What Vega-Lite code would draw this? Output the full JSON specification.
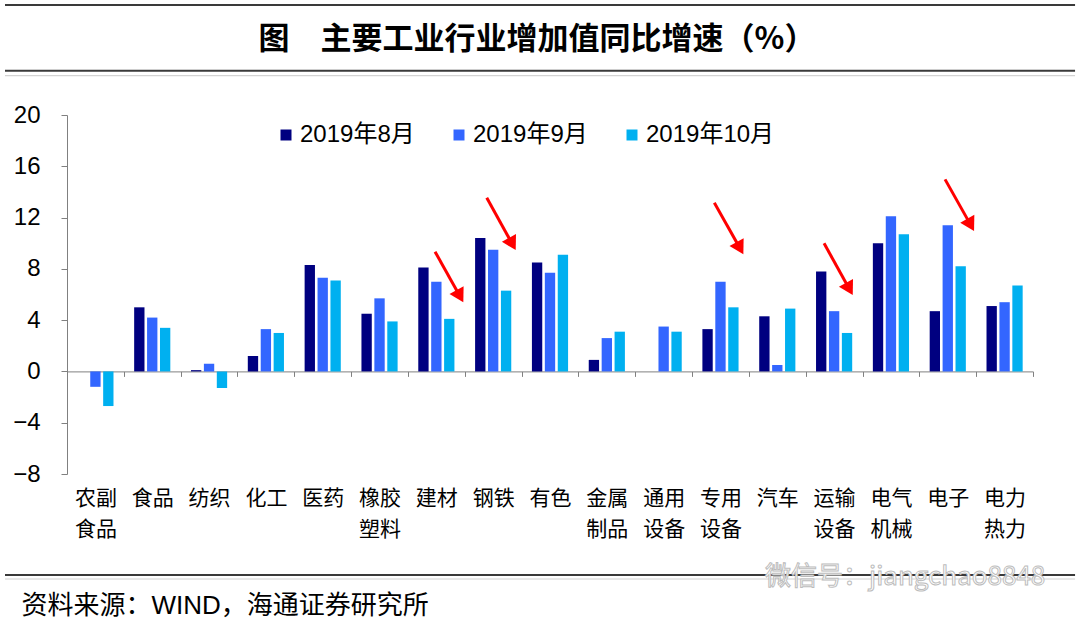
{
  "$schema": "https://vega.github.io/schema/vega-lite/v6.json",
  "width": 966,
  "height": 359,
  "autosize": {"type": "none"},
  "padding": {"left": 67, "top": 115, "right": 47, "bottom": 153},
  "background": "white",
  "config": {
    "view": {"stroke": null},
    "font": "Liberation Sans",
    "axisY": {
      "grid": false,
      "domainColor": "#808080",
      "tickColor": "#808080",
      "tickSize": 6,
      "labelFont": "Liberation Sans",
      "labelFontSize": 24,
      "labelColor": "#000000",
      "labelPadding": 21
    }
  },
  "title": {
    "text": "图　主要工业行业增加值同比增速（%）",
    "font": "Noto Sans CJK SC",
    "fontSize": 31,
    "fontWeight": "bold",
    "color": "#000000",
    "anchor": "middle",
    "frame": "group",
    "dx": -13,
    "dy": 52,
    "offset": 0
  },
  "datasets": {
    "bars": [
      {"industry": "农副食品", "month": "2019年8月", "value": 0},
      {"industry": "农副食品", "month": "2019年9月", "value": -1.2},
      {"industry": "农副食品", "month": "2019年10月", "value": -2.7},
      {"industry": "食品", "month": "2019年8月", "value": 5.0},
      {"industry": "食品", "month": "2019年9月", "value": 4.2},
      {"industry": "食品", "month": "2019年10月", "value": 3.4},
      {"industry": "纺织", "month": "2019年8月", "value": 0.1},
      {"industry": "纺织", "month": "2019年9月", "value": 0.6},
      {"industry": "纺织", "month": "2019年10月", "value": -1.3},
      {"industry": "化工", "month": "2019年8月", "value": 1.2},
      {"industry": "化工", "month": "2019年9月", "value": 3.3},
      {"industry": "化工", "month": "2019年10月", "value": 3.0},
      {"industry": "医药", "month": "2019年8月", "value": 8.3},
      {"industry": "医药", "month": "2019年9月", "value": 7.3},
      {"industry": "医药", "month": "2019年10月", "value": 7.1},
      {"industry": "橡胶塑料", "month": "2019年8月", "value": 4.5},
      {"industry": "橡胶塑料", "month": "2019年9月", "value": 5.7},
      {"industry": "橡胶塑料", "month": "2019年10月", "value": 3.9},
      {"industry": "建材", "month": "2019年8月", "value": 8.1},
      {"industry": "建材", "month": "2019年9月", "value": 7.0},
      {"industry": "建材", "month": "2019年10月", "value": 4.1},
      {"industry": "钢铁", "month": "2019年8月", "value": 10.4},
      {"industry": "钢铁", "month": "2019年9月", "value": 9.5},
      {"industry": "钢铁", "month": "2019年10月", "value": 6.3},
      {"industry": "有色", "month": "2019年8月", "value": 8.5},
      {"industry": "有色", "month": "2019年9月", "value": 7.7},
      {"industry": "有色", "month": "2019年10月", "value": 9.1},
      {"industry": "金属制品", "month": "2019年8月", "value": 0.9},
      {"industry": "金属制品", "month": "2019年9月", "value": 2.6},
      {"industry": "金属制品", "month": "2019年10月", "value": 3.1},
      {"industry": "通用设备", "month": "2019年8月", "value": 0},
      {"industry": "通用设备", "month": "2019年9月", "value": 3.5},
      {"industry": "通用设备", "month": "2019年10月", "value": 3.1},
      {"industry": "专用设备", "month": "2019年8月", "value": 3.3},
      {"industry": "专用设备", "month": "2019年9月", "value": 7.0},
      {"industry": "专用设备", "month": "2019年10月", "value": 5.0},
      {"industry": "汽车", "month": "2019年8月", "value": 4.3},
      {"industry": "汽车", "month": "2019年9月", "value": 0.5},
      {"industry": "汽车", "month": "2019年10月", "value": 4.9},
      {"industry": "运输设备", "month": "2019年8月", "value": 7.8},
      {"industry": "运输设备", "month": "2019年9月", "value": 4.7},
      {"industry": "运输设备", "month": "2019年10月", "value": 3.0},
      {"industry": "电气机械", "month": "2019年8月", "value": 10.0},
      {"industry": "电气机械", "month": "2019年9月", "value": 12.1},
      {"industry": "电气机械", "month": "2019年10月", "value": 10.7},
      {"industry": "电子", "month": "2019年8月", "value": 4.7},
      {"industry": "电子", "month": "2019年9月", "value": 11.4},
      {"industry": "电子", "month": "2019年10月", "value": 8.2},
      {"industry": "电力热力", "month": "2019年8月", "value": 5.1},
      {"industry": "电力热力", "month": "2019年9月", "value": 5.4},
      {"industry": "电力热力", "month": "2019年10月", "value": 6.7}
    ],
    "arrows": [
      {"from_pos": 6.477, "from_val": 9.34, "to_pos": 6.915, "to_val": 5.87},
      {"from_pos": 7.387, "from_val": 13.55, "to_pos": 7.837, "to_val": 9.94},
      {"from_pos": 11.392, "from_val": 13.16, "to_pos": 11.843, "to_val": 9.61},
      {"from_pos": 13.323, "from_val": 9.99, "to_pos": 13.768, "to_val": 6.43},
      {"from_pos": 15.452, "from_val": 14.98, "to_pos": 15.903, "to_val": 11.43}
    ]
  },
  "layer": [
    {
      "data": {"name": "bars"},
      "mark": {"type": "bar"},
      "encoding": {
        "x": {
          "field": "industry",
          "type": "nominal",
          "sort": null,
          "scale": {"paddingInner": 0, "paddingOuter": 0},
          "axis": {
            "orient": "bottom",
            "offset": -102.6,
            "domainColor": "#808080",
            "domainWidth": 1,
            "tickColor": "#808080",
            "tickSize": 5,
            "tickBand": "extent",
            "labelPadding": 111,
            "labelFont": "Noto Sans CJK SC",
            "labelFontSize": 21,
            "labelColor": "#000000",
            "labelAngle": 0,
            "labelLineHeight": 31,
            "labelOverlap": false,
            "labelBound": false,
            "labelExpr": "length(datum.label) > 2 ? [substring(datum.label, 0, 2), substring(datum.label, 2)] : datum.label",
            "title": "资料来源：WIND，海通证券研究所",
            "titleFont": "Liberation Sans, Noto Sans CJK SC",
            "titleFontSize": 26,
            "titleFontWeight": "normal",
            "titleColor": "#000000",
            "titleAlign": "left",
            "titleBaseline": "middle",
            "titleX": -46,
            "titleY": 233.6
          }
        },
        "xOffset": {
          "field": "month",
          "type": "nominal",
          "sort": ["2019年8月", "2019年9月", "2019年10月"],
          "scale": {"paddingInner": 0.2, "paddingOuter": 0.8}
        },
        "y": {
          "field": "value",
          "type": "quantitative",
          "scale": {"domain": [-8, 20], "nice": false, "zero": false},
          "axis": {"values": [-8, -4, 0, 4, 8, 12, 16, 20], "title": null}
        },
        "color": {
          "field": "month",
          "type": "nominal",
          "sort": ["2019年8月", "2019年9月", "2019年10月"],
          "scale": {"domain": ["2019年8月", "2019年9月", "2019年10月"], "range": ["#000080", "#3366FF", "#00B0F0"]},
          "legend": {
            "orient": "none",
            "legendX": 207,
            "legendY": 8,
            "direction": "horizontal",
            "title": null,
            "symbolType": "square",
            "symbolSize": 121,
            "symbolStrokeWidth": 0,
            "labelFont": "Liberation Sans, Noto Sans CJK SC",
            "labelFontSize": 24,
            "labelColor": "#000000",
            "labelOffset": 2,
            "columnPadding": 32
          }
        }
      }
    },
    {
      "data": {"values": [{}]},
      "mark": {"type": "rule", "color": "#3a3a3a", "strokeWidth": 2},
      "encoding": {
        "x": {"datum": -1.091, "type": "quantitative", "scale": {"domain": [0, 17], "nice": false, "zero": false}, "axis": null},
        "x2": {"datum": 17.74},
        "y": {"datum": 28.578, "type": "quantitative", "scale": {"domain": [-8, 20], "nice": false, "zero": false}, "axis": {"values": [-8, -4, 0, 4, 8, 12, 16, 20], "title": null}}
      }
    },
    {
      "data": {"values": [{}]},
      "mark": {"type": "rule", "color": "#3a3a3a", "strokeWidth": 2},
      "encoding": {
        "x": {"datum": -1.091, "type": "quantitative", "scale": {"domain": [0, 17], "nice": false, "zero": false}, "axis": null},
        "x2": {"datum": 17.74},
        "y": {"datum": 23.454, "type": "quantitative", "scale": {"domain": [-8, 20], "nice": false, "zero": false}, "axis": {"values": [-8, -4, 0, 4, 8, 12, 16, 20], "title": null}}
      }
    },
    {
      "data": {"values": [{}]},
      "mark": {"type": "rule", "color": "#c8c8c8", "strokeWidth": 1},
      "encoding": {
        "x": {"datum": -1.091, "type": "quantitative", "scale": {"domain": [0, 17], "nice": false, "zero": false}, "axis": null},
        "x2": {"datum": 17.74},
        "y": {"datum": 23.064, "type": "quantitative", "scale": {"domain": [-8, 20], "nice": false, "zero": false}, "axis": {"values": [-8, -4, 0, 4, 8, 12, 16, 20], "title": null}}
      }
    },
    {
      "data": {"values": [{}]},
      "mark": {"type": "rule", "color": "#3a3a3a", "strokeWidth": 2},
      "encoding": {
        "x": {"datum": -1.091, "type": "quantitative", "scale": {"domain": [0, 17], "nice": false, "zero": false}, "axis": null},
        "x2": {"datum": 17.74},
        "y": {"datum": -15.88, "type": "quantitative", "scale": {"domain": [-8, 20], "nice": false, "zero": false}, "axis": {"values": [-8, -4, 0, 4, 8, 12, 16, 20], "title": null}}
      }
    },
    {
      "data": {"values": [{}]},
      "mark": {"type": "rule", "color": "#d0d0d0", "strokeWidth": 1},
      "encoding": {
        "x": {"datum": -1.091, "type": "quantitative", "scale": {"domain": [0, 17], "nice": false, "zero": false}, "axis": null},
        "x2": {"datum": 17.74},
        "y": {"datum": -16.19, "type": "quantitative", "scale": {"domain": [-8, 20], "nice": false, "zero": false}, "axis": {"values": [-8, -4, 0, 4, 8, 12, 16, 20], "title": null}}
      }
    },
    {
      "data": {"values": [{}]},
      "mark": {"type": "text", "text": "微信号：jiangchao8848", "font": "Noto Sans CJK SC", "fontSize": 26, "fill": "#ffffff", "stroke": "#bcbcbc", "strokeWidth": 1, "align": "center", "baseline": "middle"},
      "encoding": {
        "x": {"datum": 14.75, "type": "quantitative", "scale": {"domain": [0, 17], "nice": false, "zero": false}, "axis": null},
        "y": {"datum": -16.04, "type": "quantitative", "scale": {"domain": [-8, 20], "nice": false, "zero": false}, "axis": {"values": [-8, -4, 0, 4, 8, 12, 16, 20], "title": null}}
      }
    },
    {
      "data": {"name": "arrows"},
      "mark": {"type": "rule", "color": "#ff0000", "strokeWidth": 3},
      "encoding": {
        "x": {"field": "from_pos", "type": "quantitative", "scale": {"domain": [0, 17], "nice": false, "zero": false}, "axis": null},
        "x2": {"field": "to_pos"},
        "y": {"field": "from_val", "type": "quantitative", "scale": {"domain": [-8, 20], "nice": false, "zero": false}, "axis": {"values": [-8, -4, 0, 4, 8, 12, 16, 20], "title": null}},
        "y2": {"field": "to_val"}
      }
    },
    {
      "data": {"name": "arrows"},
      "mark": {"type": "point", "shape": "triangle-down", "filled": true, "color": "#ff0000", "opacity": 1, "size": 260, "angle": 331},
      "encoding": {
        "x": {"field": "to_pos", "type": "quantitative", "scale": {"domain": [0, 17], "nice": false, "zero": false}, "axis": null},
        "y": {"field": "to_val", "type": "quantitative", "scale": {"domain": [-8, 20], "nice": false, "zero": false}, "axis": {"values": [-8, -4, 0, 4, 8, 12, 16, 20], "title": null}}
      }
    }
  ],
  "resolve": {"scale": {"x": "independent"}}
}
